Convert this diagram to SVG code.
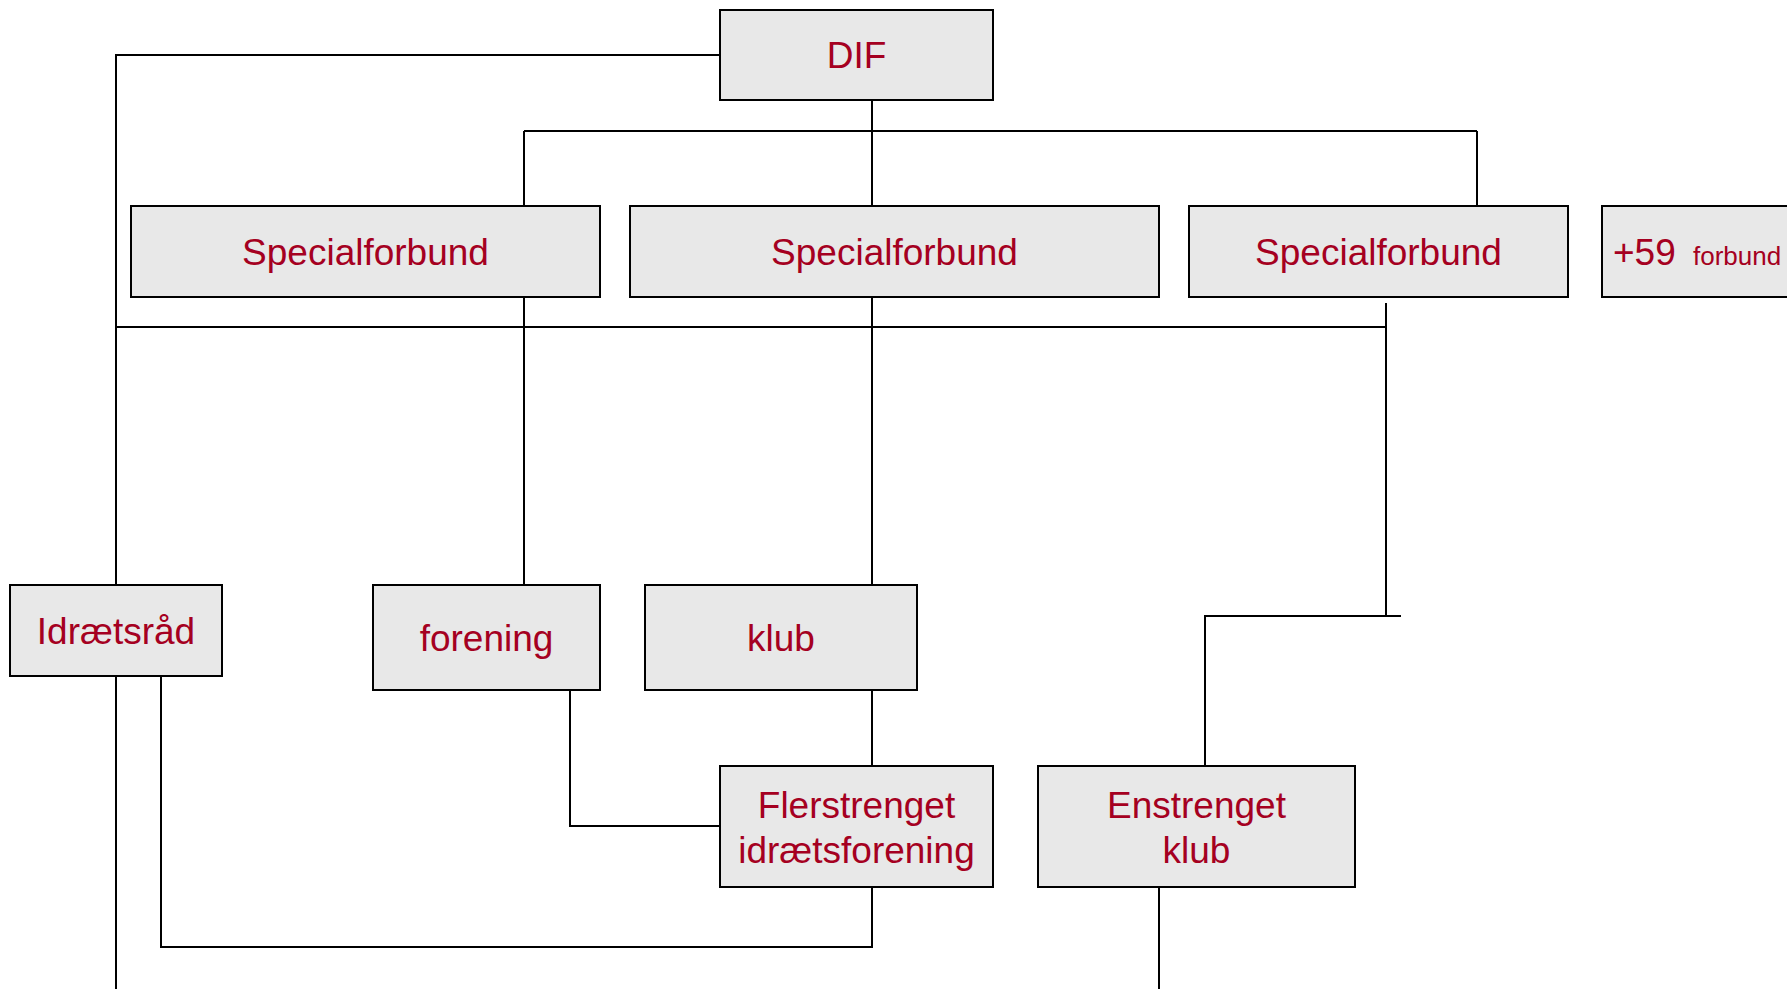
<svg xmlns="http://www.w3.org/2000/svg" width="1787" height="989" viewBox="0 0 1787 989">
<style>
.box{fill:#e8e8e8;stroke:#000;stroke-width:2}
.t{font-family:"Liberation Sans",Arial,sans-serif;font-size:37px;fill:#a50021;text-anchor:middle}
.s{font-family:"Liberation Sans",Arial,sans-serif;font-size:26px;fill:#a50021}
.c{fill:none;stroke:#000;stroke-width:2}
</style>
<rect width="1787" height="989" fill="#fff"/>
<g id="connectors" class="c">
<polyline points="720,55 116,55 116,585"/>
<line x1="116" y1="676" x2="116" y2="989"/>
<line x1="872" y1="100" x2="872" y2="206"/>
<line x1="524" y1="131" x2="1477" y2="131"/>
<line x1="524" y1="131" x2="524" y2="206"/>
<line x1="1477" y1="131" x2="1477" y2="206"/>
<line x1="116" y1="327" x2="1386" y2="327"/>
<line x1="524" y1="297" x2="524" y2="585"/>
<line x1="872" y1="297" x2="872" y2="585"/>
<line x1="1386" y1="303" x2="1386" y2="616"/>
<polyline points="1401,616 1205,616 1205,766"/>
<polyline points="570,690 570,826 720,826"/>
<line x1="872" y1="690" x2="872" y2="766"/>
<polyline points="872,887 872,947 161,947 161,676"/>
<line x1="1159" y1="887" x2="1159" y2="989"/>
</g>
<g id="dif"><rect class="box" x="720" y="10" width="273" height="90"/><text class="t" x="856.5" y="68">DIF</text></g>
<g id="spec1"><rect class="box" x="131" y="206" width="469" height="91"/><text class="t" x="365.5" y="265">Specialforbund</text></g>
<g id="spec2"><rect class="box" x="630" y="206" width="529" height="91"/><text class="t" x="894.5" y="265">Specialforbund</text></g>
<g id="spec3"><rect class="box" x="1189" y="206" width="379" height="91"/><text class="t" x="1378.5" y="265">Specialforbund</text></g>
<g id="more"><rect class="box" x="1602" y="206" width="200" height="91"/><text class="t" x="1613" y="265" style="text-anchor:start">+59</text><text class="s" x="1693" y="265">forbund</text></g>
<g id="idraetsraad"><rect class="box" x="10" y="585" width="212" height="91"/><text class="t" x="116" y="644">Idrætsråd</text></g>
<g id="forening"><rect class="box" x="373" y="585" width="227" height="105"/><text class="t" x="486.5" y="651">forening</text></g>
<g id="klub"><rect class="box" x="645" y="585" width="272" height="105"/><text class="t" x="781" y="651">klub</text></g>
<g id="flerstrenget"><rect class="box" x="720" y="766" width="273" height="121"/><text class="t" x="856.5" y="818">Flerstrenget</text><text class="t" x="856.5" y="863">idrætsforening</text></g>
<g id="enstrenget"><rect class="box" x="1038" y="766" width="317" height="121"/><text class="t" x="1196.5" y="818">Enstrenget</text><text class="t" x="1196.5" y="863">klub</text></g>
</svg>
